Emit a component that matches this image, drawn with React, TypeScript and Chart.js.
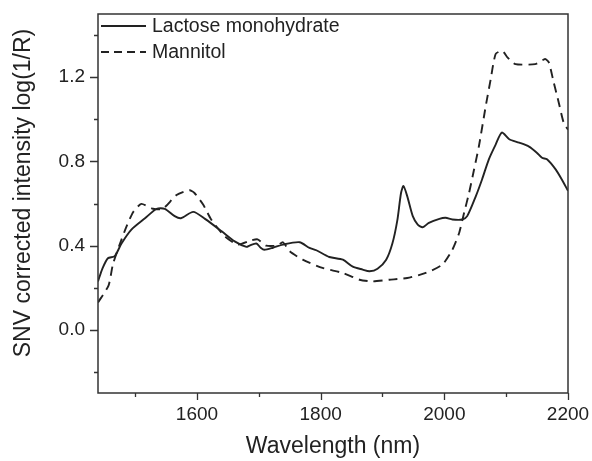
import React, { useEffect, useRef } from "react";
import { Chart, registerables } from "chart.js";

Chart.register(...registerables);

// ---------- data ----------
const seriesNames = ["Lactose monohydrate", "Mannitol"];

const lactoseWavelengths = [
  1440, 1447, 1456, 1467, 1478, 1494, 1516, 1535, 1548, 1564, 1574, 1594, 1613, 1640, 1661,
  1680, 1685, 1696, 1703, 1709, 1723, 1739, 1766, 1782, 1793, 1814, 1836, 1852, 1868, 1879,
  1892, 1906, 1916, 1924, 1930, 1934, 1940, 1949, 1957, 1965, 1975, 1992, 2002, 2013, 2029,
  2037, 2051, 2061, 2072, 2083, 2093, 2105, 2121, 2137, 2150, 2158, 2166, 2180, 2190, 2200,
];
const lactoseValues = [
  0.23, 0.29, 0.34, 0.35, 0.41, 0.476, 0.53, 0.575, 0.575, 0.54, 0.53, 0.56, 0.527, 0.468, 0.42,
  0.394, 0.4, 0.41, 0.39, 0.38, 0.39, 0.405, 0.416, 0.389, 0.378, 0.346, 0.333, 0.3, 0.286, 0.278,
  0.29, 0.333, 0.41, 0.52, 0.65, 0.683, 0.635, 0.54, 0.5, 0.487, 0.508, 0.527, 0.532, 0.524, 0.524,
  0.54, 0.635, 0.714, 0.81, 0.88, 0.937, 0.905, 0.889, 0.87, 0.84, 0.817, 0.81, 0.762, 0.714, 0.66,
];

const mannitolWavelengths = [
  1440, 1457, 1464, 1475, 1486, 1497, 1510, 1529, 1545, 1567, 1588, 1596, 1610, 1623, 1645,
  1666, 1688, 1698, 1712, 1730, 1739, 1750, 1771, 1803, 1836, 1863, 1884, 1911, 1940, 1970,
  1997, 2013, 2024, 2032, 2040, 2048, 2056, 2067, 2075, 2083, 2094, 2102, 2115, 2147, 2163,
  2169, 2177, 2185, 2193, 2200,
];
const mannitolValues = [
  0.13, 0.21, 0.31, 0.405, 0.49, 0.56, 0.598, 0.575, 0.575, 0.64, 0.663, 0.65, 0.595, 0.524, 0.444,
  0.405, 0.425, 0.43, 0.4, 0.4, 0.416, 0.373, 0.333, 0.294, 0.27, 0.238, 0.23, 0.238, 0.246, 0.27,
  0.31, 0.38, 0.46, 0.556, 0.65, 0.76, 0.873, 1.063, 1.19, 1.31, 1.325, 1.294, 1.262, 1.262, 1.286,
  1.27, 1.174, 1.08, 0.984, 0.95,
];

const xTickValues = [1600, 1800, 2000, 2200];
const xMinorTickValues = [1500, 1700, 1900, 2100];
const yTickValues = [0, 0.4, 0.8, 1.2];
const yMinorTickValues = [-0.2, 0.2, 0.6, 1.0, 1.4];

const xTitle = "Wavelength (nm)";
const yTitle = "SNV corrected intensity log(1/R)";

// ---------- styles ----------
const FONT = "'Liberation Sans', Arial, Helvetica, sans-serif";
const INK = "#222";
const AXIS = "#333";
const DASH = [9, 6];

const framePlugin = {
  id: "frameTicksLegend",
  afterDraw(chart: any) {
    const { ctx, chartArea, scales } = chart;
    const { left, right, top, bottom } = chartArea;
    const x = scales.x;
    const y = scales.y;
    ctx.save();
    ctx.strokeStyle = AXIS;
    ctx.lineWidth = 1.5;
    ctx.setLineDash([]);
    ctx.strokeRect(left, top, right - left, bottom - top);

    ctx.lineWidth = 1.3;
    ctx.beginPath();
    xTickValues.forEach((v) => {
      const px = Math.round(x.getPixelForValue(v)) + 0.5;
      ctx.moveTo(px, bottom);
      ctx.lineTo(px, bottom + 7);
    });
    xMinorTickValues.forEach((v) => {
      const px = Math.round(x.getPixelForValue(v)) + 0.5;
      ctx.moveTo(px, bottom);
      ctx.lineTo(px, bottom + 4);
    });
    yTickValues.forEach((v) => {
      const py = Math.round(y.getPixelForValue(v)) + 0.5;
      ctx.moveTo(left, py);
      ctx.lineTo(left - 8, py);
    });
    yMinorTickValues.forEach((v) => {
      const py = Math.round(y.getPixelForValue(v)) + 0.5;
      ctx.moveTo(left, py);
      ctx.lineTo(left - 4, py);
    });
    ctx.stroke();

    // y-axis title (placed slightly above the plot centre, as in the original)
    ctx.save();
    ctx.translate(24, 193);
    ctx.rotate(-Math.PI / 2);
    ctx.fillStyle = INK;
    ctx.font = `23px ${FONT}`;
    ctx.textAlign = "center";
    ctx.textBaseline = "middle";
    ctx.fillText(yTitle, 0, 0);
    ctx.restore();

    // legend inside plot area (top-left)
    const datasets = chart.data.datasets;
    const rows = [top + 12, top + 38];
    datasets.forEach((ds: any, i: number) => {
      const yy = rows[i];
      ctx.strokeStyle = ds.borderColor;
      ctx.lineWidth = ds.borderWidth;
      ctx.setLineDash(i === 1 ? [8, 5] : []);
      ctx.beginPath();
      ctx.moveTo(left + 3, yy);
      ctx.lineTo(left + 48, yy);
      ctx.stroke();
      ctx.setLineDash([]);
      ctx.fillStyle = INK;
      ctx.font = `19.5px ${FONT}`;
      ctx.textBaseline = "middle";
      ctx.textAlign = "left";
      ctx.fillText(ds.label, left + 54, yy + 1);
    });
    ctx.restore();
  },
};

export default function App() {
  const canvasRef = useRef<HTMLCanvasElement | null>(null);

  useEffect(() => {
    document.body.style.margin = "0";
    const canvas = canvasRef.current;
    if (!canvas) return;
    const lactose = lactoseWavelengths.map((w, i) => ({ x: w, y: lactoseValues[i] }));
    const mannitol = mannitolWavelengths.map((w, i) => ({ x: w, y: mannitolValues[i] }));

    const chart = new Chart(canvas, {
      type: "line",
      data: {
        datasets: [
          {
            label: seriesNames[0],
            data: lactose,
            borderColor: INK,
            borderWidth: 1.9,
            pointRadius: 0,
            tension: 0.25,
            fill: false,
          },
          {
            label: seriesNames[1],
            data: mannitol,
            borderColor: INK,
            borderWidth: 1.9,
            borderDash: DASH,
            pointRadius: 0,
            tension: 0.2,
            fill: false,
          },
        ],
      },
      options: {
        responsive: false,
        animation: false,
        events: [],
        layout: { padding: { left: 0, top: 14, right: 24, bottom: 0 } },
        plugins: {
          legend: { display: false },
          tooltip: { enabled: false },
        },
        scales: {
          x: {
            type: "linear",
            min: 1440,
            max: 2200,
            grid: { display: false },
            border: { display: false },
            afterBuildTicks: (s: any) => {
              s.ticks = xTickValues.map((v) => ({ value: v }));
            },
            afterFit: (s: any) => {
              s.height = 68;
              s.paddingLeft = 0;
              s.paddingRight = 0;
              s.paddingTop = 0;
              s.paddingBottom = 0;
            },
            ticks: {
              color: INK,
              font: { family: FONT, size: 19 },
              padding: 2,
              maxRotation: 0,
              callback: (v: any) => String(v),
            },
            title: {
              display: true,
              text: xTitle,
              color: INK,
              font: { family: FONT, size: 23 },
              padding: { top: 0, bottom: 1 },
            },
          },
          y: {
            type: "linear",
            min: -0.3,
            max: 1.5,
            grid: { display: false },
            border: { display: false },
            afterBuildTicks: (s: any) => {
              s.ticks = yTickValues.map((v) => ({ value: v }));
            },
            afterFit: (s: any) => {
              s.width = 98;
              s.paddingLeft = 0;
              s.paddingRight = 0;
              s.paddingTop = 0;
              s.paddingBottom = 0;
            },
            ticks: {
              color: INK,
              font: { family: FONT, size: 19 },
              padding: 5,
              callback: (v: any) => Number(v).toFixed(1),
            },
            title: { display: false, text: yTitle },
          },
        },
      },
      plugins: [framePlugin],
    });
    return () => chart.destroy();
  }, []);

  return (
    <div style={{ position: "absolute", left: 0, top: 0, width: 592, height: 461, background: "#fff" }}>
      <canvas ref={canvasRef} width={592} height={461} />
    </div>
  );
}
